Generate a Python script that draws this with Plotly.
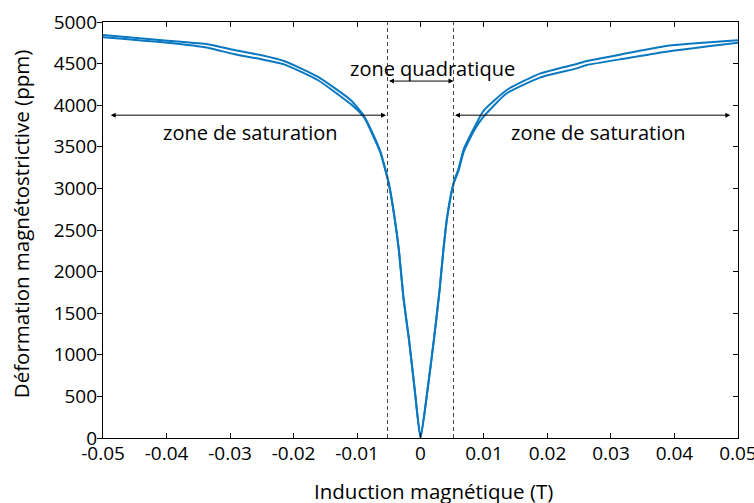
import plotly.graph_objects as go

# Branch 1 (upper curve)
x_upper = [-0.05, -0.0398, -0.0335, -0.0293, -0.0252, -0.0215, -0.0162, -0.011, -0.0089,
           -0.0074, -0.0063, -0.005, -0.0041, -0.0034, -0.0027, -0.0018, -0.0009, 0.0,
           0.0011, 0.0021, 0.003, 0.0036, 0.0042, 0.0052, 0.006, 0.0068, 0.0084, 0.0099,
           0.0136, 0.0189, 0.0246, 0.0262, 0.0325, 0.0387, 0.05]
y_upper = [4845, 4775, 4732, 4663, 4603, 4531, 4343, 4062, 3870,
           3640, 3440, 3065, 2660, 2260, 1700, 1178, 577, 0,
           577, 1178, 1779, 2260, 2660, 3065, 3240, 3470, 3720, 3930,
           4183, 4383, 4495, 4531, 4624, 4712, 4780]

# Branch 2 (lower curve)
x_lower = [-0.05, -0.0398, -0.0335, -0.0293, -0.0252, -0.0215, -0.0162, -0.011, -0.0089,
           -0.0074, -0.0063, -0.005, -0.0041, -0.0034, -0.0027, -0.0018, -0.0009, 0.0,
           0.0011, 0.0021, 0.003, 0.0036, 0.0042, 0.0052, 0.006, 0.0068, 0.0084, 0.0099,
           0.0136, 0.0189, 0.0246, 0.0262, 0.0325, 0.0387, 0.05]
y_lower = [4818, 4751, 4691, 4612, 4555, 4491, 4303, 4014, 3855,
           3620, 3425, 3055, 2650, 2250, 1690, 1170, 570, 0,
           570, 1170, 1770, 2250, 2650, 3050, 3215, 3440, 3690, 3860,
           4143, 4335, 4443, 4483, 4564, 4643, 4750]

x_ticks = [-0.05, -0.04, -0.03, -0.02, -0.01, 0, 0.01, 0.02, 0.03, 0.04, 0.05]
x_ticktext = ["-0.05", "-0.04", "-0.03", "-0.02", "-0.01", "0", "0.01", "0.02", "0.03", "0.04", "0.05"]
y_ticks = [0, 500, 1000, 1500, 2000, 2500, 3000, 3500, 4000, 4500, 5000]

zone_limits = [-0.0052, 0.0052]
arrow_y_quad = 4290
arrow_y_sat = 3880

blue = "#0a78c0"
font_family = "Open Sans"

fig = go.Figure()
fig.add_trace(go.Scatter(x=x_upper, y=y_upper, mode="lines",
                         line=dict(color=blue, width=2, shape="spline", smoothing=0.5),
                         showlegend=False))
fig.add_trace(go.Scatter(x=x_lower, y=y_lower, mode="lines",
                         line=dict(color=blue, width=2, shape="spline", smoothing=0.5),
                         showlegend=False))
# invisible trace to carry the right-hand axis ticks
fig.add_trace(go.Scatter(x=[x_ticks[0]], y=[y_ticks[0]], yaxis="y2", mode="markers",
                         marker=dict(opacity=0), showlegend=False, hoverinfo="skip"))

for xv in zone_limits:
    fig.add_shape(type="line", x0=xv, x1=xv, y0=0, y1=5000, xref="x", yref="y",
                  line=dict(color="#444444", width=1, dash="4px,3px"))

def dbl_arrow(x0, x1, y):
    fig.add_annotation(x=x1, y=y, ax=x0, ay=y, xref="x", yref="y", axref="x", ayref="y",
                       text="", showarrow=True, arrowhead=2, startarrowhead=2,
                       arrowside="end+start", arrowsize=1, startarrowsize=1,
                       arrowwidth=1, arrowcolor="black")

dbl_arrow(zone_limits[0], zone_limits[1], arrow_y_quad)
dbl_arrow(zone_limits[0], -0.0488, arrow_y_sat)
dbl_arrow(zone_limits[1], 0.0488, arrow_y_sat)

ann_font = dict(size=20, color="black", family=font_family)
fig.add_annotation(x=0.0019, y=4440, text="zone quadratique", showarrow=False, font=ann_font)
fig.add_annotation(x=-0.0267, y=3670, text="zone de saturation", showarrow=False, font=ann_font)
fig.add_annotation(x=0.0281, y=3670, text="zone de saturation", showarrow=False, font=ann_font)

# axis titles
title_font = dict(size=20.5, color="black", family=font_family)
fig.add_annotation(xref="paper", yref="paper", x=0.52, y=-0.128, text="Induction magnétique (T)",
                   showarrow=False, xanchor="center", yanchor="middle", font=title_font)
fig.add_annotation(xref="paper", yref="paper", x=-0.13, y=0.515,
                   text="Déformation magnétostrictive (ppm)", textangle=-90,
                   showarrow=False, xanchor="center", yanchor="middle", font=title_font)

fig.update_layout(
    width=754, height=503,
    margin=dict(l=103, r=16, t=22, b=65, autoexpand=False),
    paper_bgcolor="white", plot_bgcolor="white",
    font=dict(family=font_family, size=19, color="black"),
    xaxis=dict(range=[-0.05001, 0.05001], tickmode="array", automargin=False,
               tickvals=x_ticks, ticktext=x_ticktext, ticklabeloverflow="allow",
               ticks="inside", ticklen=5, tickcolor="black", showline=True, linecolor="black",
               linewidth=1.2, mirror="ticks", showgrid=False, zeroline=False,
               ticklabelstandoff=-2, tickfont=dict(size=19)),
    yaxis=dict(range=[0, 5000], tickmode="array", tickvals=y_ticks, automargin=False,
               ticks="outside", ticklen=5, tickcolor="black", showline=True,
               linecolor="black", linewidth=1.2, mirror=True, showgrid=False,
               zeroline=False, ticklabelstandoff=-4, tickfont=dict(size=19)),
    yaxis2=dict(overlaying="y", side="right", range=[0, 5000], tickmode="array",
                tickvals=y_ticks, ticks="inside", ticklen=5, tickcolor="black", automargin=False,
                showticklabels=False, showline=True, linecolor="black", linewidth=1.2,
                showgrid=False, zeroline=False),
)

fig.write_html("out.html")
